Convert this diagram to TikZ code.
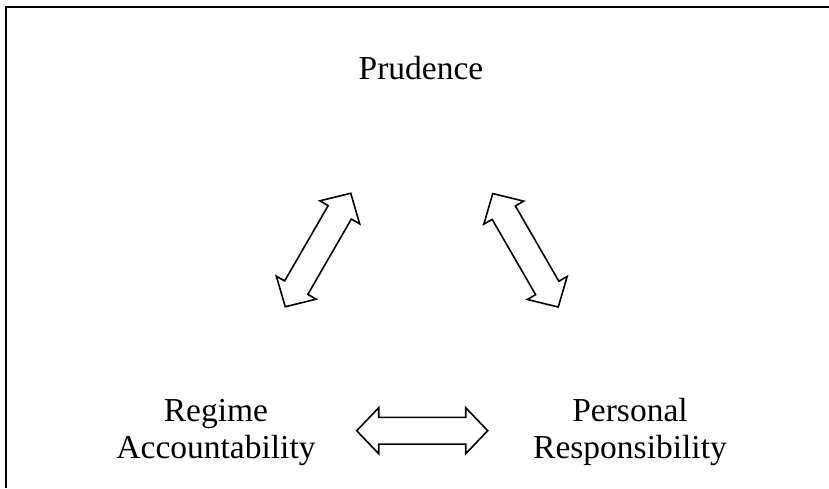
\documentclass[tikz,border=0pt]{standalone}
\usepackage{fontspec}
\setmainfont{Liberation Serif}
\begin{document}
\begin{tikzpicture}[x=1pt,y=-1pt,
  label/.style={font=\fontsize{33.5}{36.5}\selectfont, inner sep=0pt, align=center, anchor=base},
  frame/.style={line width=2pt},
  blockarrow/.pic={
    \draw[line width=1.6pt, line join=miter]
      (-65.5,0) -- (-43.5,23) -- (-43.5,13.4) -- (43.5,13.4) -- (43.5,23)
      -- (65.5,0) -- (43.5,-23) -- (43.5,-13.4) -- (-43.5,-13.4) -- (-43.5,-23) -- cycle;
  }]
\useasboundingbox (0,0) rectangle (829,488);
\draw[frame] (6,488) -- (6,7.2) -- (829,7.2);
\node[label] (prud) at (421,79) {Prudence};
\node[label] (regime) at (216,458) {Regime\\Accountability};
\node[label] (pers) at (630,458) {Personal\\Responsibility};
\pic[rotate=60] (a1) at (318,250) {blockarrow};
\pic[rotate=-60] (a2) at (525.5,250.3) {blockarrow};
\pic (a3) at (422.2,430.7) {blockarrow};
\end{tikzpicture}
\end{document}
